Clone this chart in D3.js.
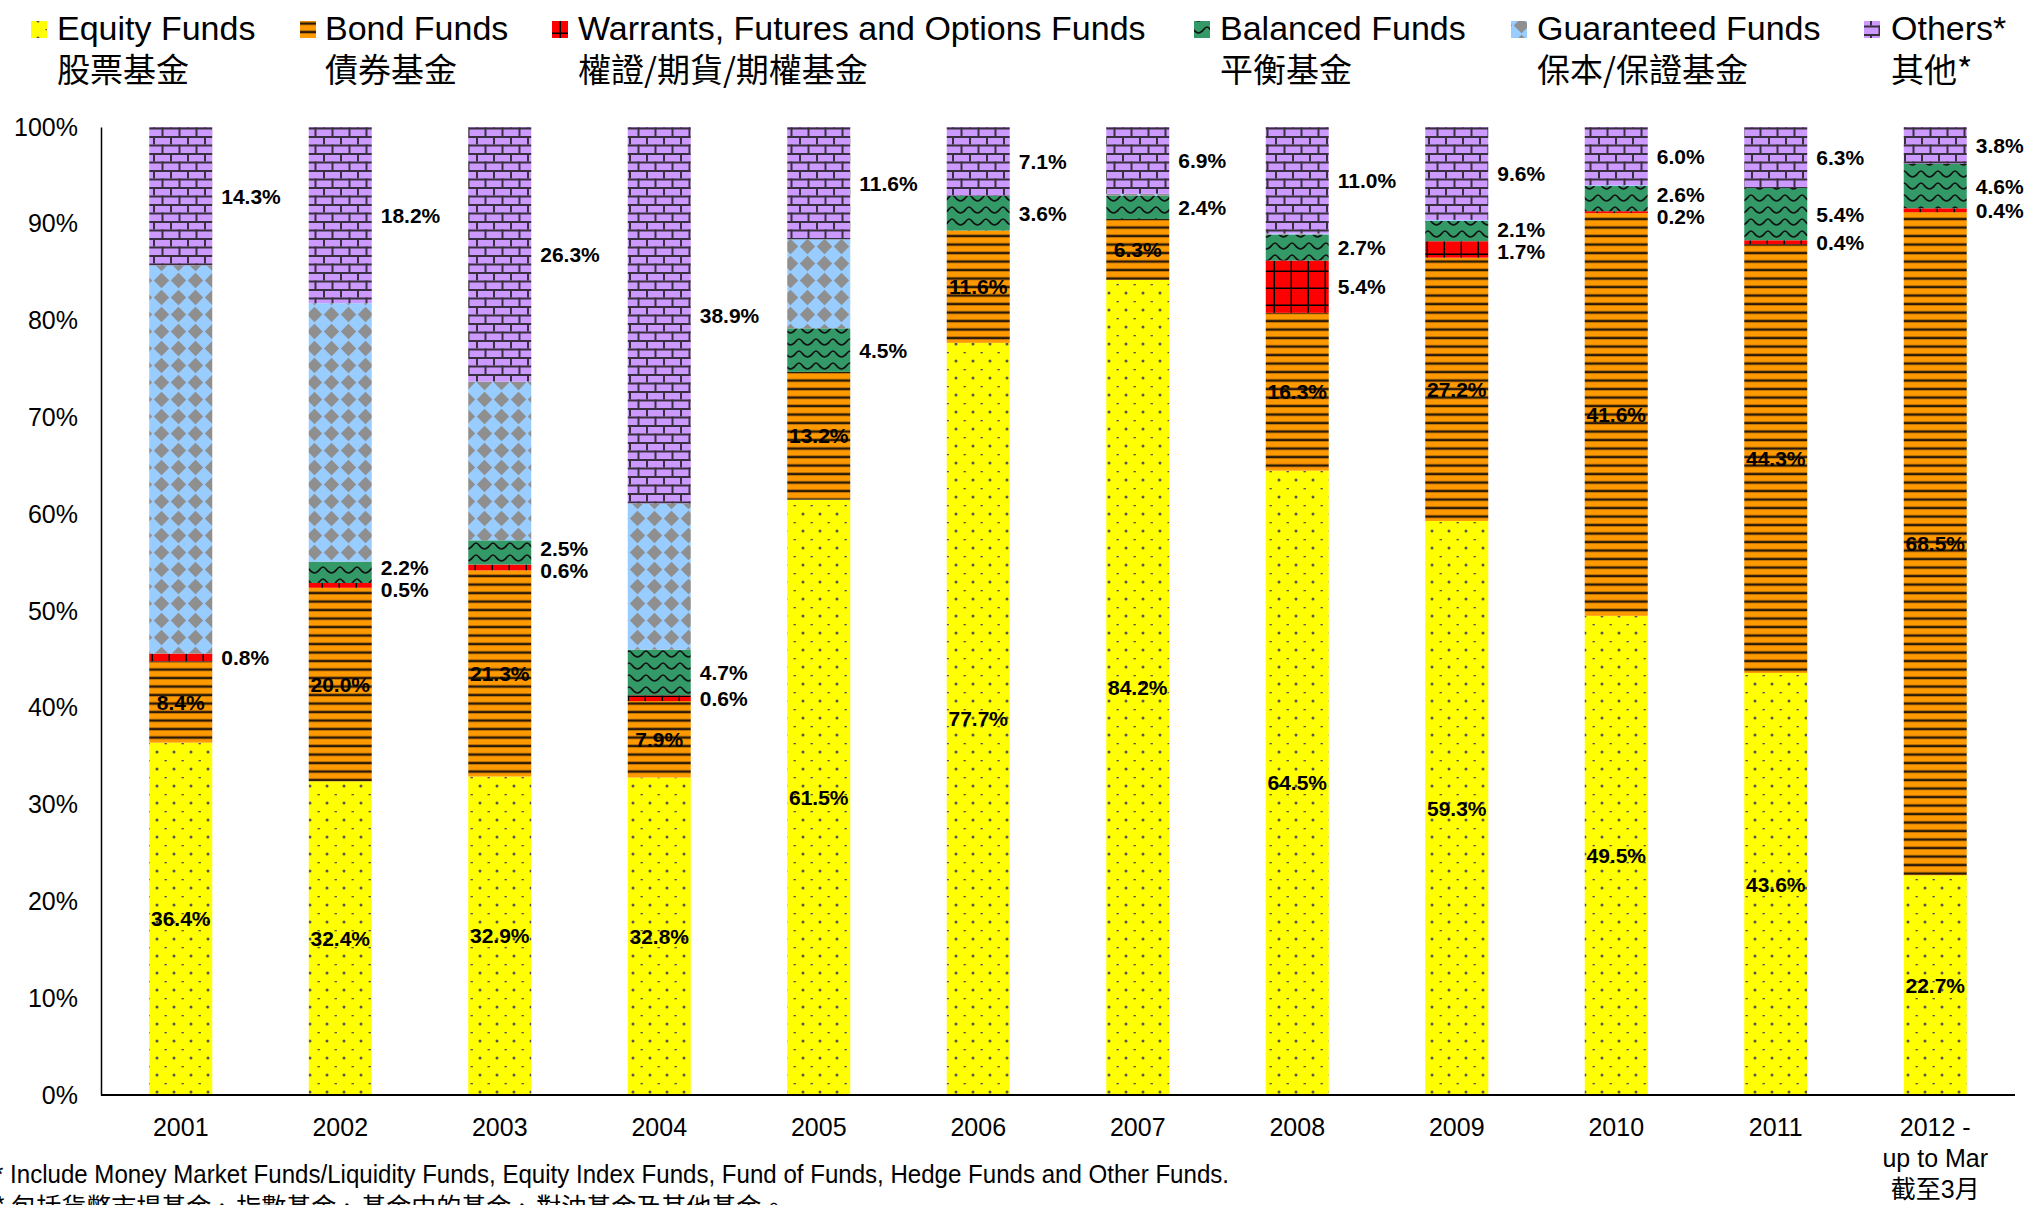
<!DOCTYPE html>
<html>
<head>
<meta charset="utf-8">
<script src="https://cdn.jsdelivr.net/npm/d3@7"></script>
<style>
  body { margin: 0; background: #fff; }
  svg { display: block; }
</style>
</head>
<body>
<div id="chart"></div>
<script>
// dati (percentuali)
var years = ["2001","2002","2003","2004","2005","2006","2007","2008","2009","2010","2011","2012"];
var yearLines = [["2001"],["2002"],["2003"],["2004"],["2005"],["2006"],["2007"],["2008"],["2009"],["2010"],["2011"],["2012 -","up to Mar","截至3月"]];
var equity     = [36.4, 32.4, 32.9, 32.8, 61.5, 77.7, 84.2, 64.5, 59.3, 49.5, 43.6, 22.7];
var bond       = [8.4, 20.0, 21.3, 7.9, 13.2, 11.6, 6.3, 16.3, 27.2, 41.6, 44.3, 68.5];
var warrants   = [0.8, 0.5, 0.6, 0.6, 0, 0, 0, 5.4, 1.7, 0.2, 0.4, 0.4];
var balanced   = [0, 2.2, 2.5, 4.7, 4.5, 3.6, 2.4, 2.7, 2.1, 2.6, 5.4, 4.6];
var guaranteed = [40.1, 26.7, 16.4, 15.1, 9.2, 0, 0.2, 0.1, 0.1, 0.1, 0, 0];
var others     = [14.3, 18.2, 26.3, 38.9, 11.6, 7.1, 6.9, 11.0, 9.6, 6.0, 6.3, 3.8];

var keys = ["equity","bond","warrants","balanced","guaranteed","others"];
var namesEn = ["Equity Funds","Bond Funds","Warrants, Futures and Options Funds","Balanced Funds","Guaranteed Funds","Others*"];
var namesZh = ["股票基金","債券基金","權證/期貨/期權基金","平衡基金","保本/保證基金","其他*"];
var yTicks = [0,10,20,30,40,50,60,70,80,90,100];

var width = 2028, height = 1205;
var plotLeft = 101, plotRight = 2015, plotTop = 127, plotBottom = 1095;

var rows = years.map(function(y, i) {
	return {year: y, equity: equity[i], bond: bond[i], warrants: warrants[i],
		balanced: balanced[i], guaranteed: guaranteed[i], others: others[i]};
});

var svg = d3.select("#chart").append("svg")
	.attr("width", width)
	.attr("height", height);

// pattern di riempimento
var defs = svg.append("defs");

function pat(id, w, h, bg) {
	var p = defs.append("pattern").attr("id", id)
		.attr("patternUnits", "userSpaceOnUse")
		.attr("width", w).attr("height", h);
	p.append("rect").attr("width", w).attr("height", h).attr("fill", bg);
	return p;
}

var p = pat("p-equity", 17, 17, "#FFFF00");
p.append("circle").attr("cx", 4).attr("cy", 4).attr("r", 1.5).attr("fill", "#555");
p.append("rect").attr("x", 11.5).attr("y", 12).attr("width", 2.4).attr("height", 1.3).attr("fill", "#555");

p = pat("p-bond", 17, 8.5, "#FF9900");
p.append("rect").attr("x", 0).attr("y", 5.3).attr("width", 17).attr("height", 2.5).attr("fill", "#2b1a08");

p = pat("p-warrants", 17, 17, "#FF0000");
p.append("rect").attr("x", 15.5).attr("y", 0).attr("width", 2).attr("height", 17).attr("fill", "#000");
p.append("rect").attr("x", 0).attr("y", 15.5).attr("width", 17).attr("height", 2).attr("fill", "#000");

p = pat("p-balanced", 17, 12, "#339966");
p.append("path")
	.attr("d", "M0,3 C3,3 4,9 8.5,9 C13,9 14,3 17,3")
	.attr("fill", "none").attr("stroke", "#111").attr("stroke-width", 1.7);

// scacchiera ruotata: rombo grigio al centro
p = pat("p-guaranteed", 17, 17, "#99CCFF");
p.append("path")
	.attr("d", "M8.5,0.8L16.2,8.5L8.5,16.2L0.8,8.5Z")
	.attr("fill", "#8f8f8f");

p = pat("p-others", 17, 17, "#CC99FF");
p.append("rect").attr("x", 0).attr("y", 0).attr("width", 17).attr("height", 2).attr("fill", "#3a2f3f");
p.append("rect").attr("x", 0).attr("y", 8.5).attr("width", 17).attr("height", 2).attr("fill", "#3a2f3f");
p.append("rect").attr("x", 0).attr("y", 0).attr("width", 2).attr("height", 8.5).attr("fill", "#3a2f3f");
p.append("rect").attr("x", 8.5).attr("y", 8.5).attr("width", 2).attr("height", 8.5).attr("fill", "#3a2f3f");

// scale
var x = d3.scaleBand()
	.domain(years)
	.range([plotLeft, plotRight])
	.paddingInner(0.605)
	.paddingOuter(0.3025);

var y = d3.scaleLinear()
	.domain([0, 100])
	.range([plotBottom, plotTop]);

var stack = d3.stack().keys(keys);
var series = stack(rows);

// barre
var layer = svg.append("g").selectAll("g")
	.data(series)
	.enter()
	.append("g")
	.attr("fill", function(d) { return "url(#p-" + d.key + ")"; });

layer.selectAll("rect")
	.data(function(d) { return d; })
	.enter()
	.append("rect")
	.attr("x", function(d) { return x(d.data.year); })
	.attr("y", function(d) { return y(d[1]); })
	.attr("width", x.bandwidth())
	.attr("height", function(d) { return Math.max(0, y(d[0]) - y(d[1])); });

// asse y
var yAxis = svg.append("g")
	.attr("transform", "translate(" + plotLeft + ",0)")
	.call(d3.axisLeft(y).tickValues(yTicks).tickSize(0).tickPadding(23)
		.tickFormat(function(d) { return d + "%"; }));
yAxis.select(".domain").attr("stroke", "#000").attr("stroke-width", 1.5);
yAxis.selectAll("text")
	.attr("font-family", "'Liberation Sans', Arial, sans-serif")
	.attr("font-size", 25)
	.attr("fill", "#000");

// asse x
svg.append("line")
	.attr("x1", plotLeft).attr("x2", plotRight)
	.attr("y1", y(0)).attr("y2", y(0))
	.attr("stroke", "#000").attr("stroke-width", 2);

var xl = svg.append("g").selectAll("text")
	.data(yearLines)
	.enter()
	.append("text")
	.attr("text-anchor", "middle")
	.attr("font-family", "'Liberation Sans', Arial, 'Noto Sans CJK TC', sans-serif")
	.attr("font-size", 25)
	.attr("fill", "#000");

xl.each(function(lines, i) {
	var t = d3.select(this);
	lines.forEach(function(s, j) {
		t.append("tspan")
			.attr("x", x(years[i]) + x.bandwidth() / 2)
			.attr("y", 1136 + j * 31)
			.text(s);
	});
});

var fmt = function(v) { return d3.format(".1f")(v) + "%"; };
var labelFont = "'Liberation Sans', Arial, sans-serif";

// etichette interne (azioni e obbligazioni)
series.filter(function(s) { return s.key == "equity" || s.key == "bond"; }).forEach(function(s) {
	svg.append("g").selectAll("text")
		.data(s)
		.enter()
		.append("text")
		.attr("x", function(d) { return x(d.data.year) + x.bandwidth() / 2; })
		.attr("y", function(d) { return y((d[0] + d[1]) / 2); })
		.attr("dy", "0.36em")
		.attr("text-anchor", "middle")
		.attr("font-family", labelFont)
		.attr("font-weight", "bold")
		.attr("font-size", 21)
		.attr("fill", "#000")
		.text(function(d) { return fmt(d[1] - d[0]); });
});

// etichette a destra (warrants, bilanciati, altri)
var sideKeys = ["warrants","balanced","others"];
var sideLabels = [];
years.forEach(function(yr, i) {
	var list = [];
	series.forEach(function(s) {
		if (sideKeys.indexOf(s.key) < 0) return;
		var d = s[i];
		var v = d[1] - d[0];
		if (v > 0.05) list.push({year: yr, v: v, cy: y((d[0] + d[1]) / 2)});
	});
	// evito sovrapposizioni
	list.sort(function(a, b) { return b.cy - a.cy; });
	for (var k = 0; k < 10; k++) {
		for (var j = 1; j < list.length; j++) {
			var gap = list[j - 1].cy - list[j].cy;
			if (gap < 22) {
				var m = (22 - gap) / 2;
				list[j - 1].cy += m;
				list[j].cy -= m;
			}
		}
	}
	sideLabels = sideLabels.concat(list);
});

svg.append("g").selectAll("text")
	.data(sideLabels)
	.enter()
	.append("text")
	.attr("x", function(d) { return x(d.year) + x.bandwidth() + 9; })
	.attr("y", function(d) { return d.cy; })
	.attr("dy", "0.36em")
	.attr("font-family", labelFont)
	.attr("font-weight", "bold")
	.attr("font-size", 21)
	.attr("fill", "#000")
	.text(function(d) { return fmt(d.v); });

// legenda
var legendMarkX = [31, 300, 552, 1194, 1511, 1864];
var legendTextX = [57, 325, 578, 1220, 1537, 1891];

var leg = svg.append("g").selectAll("g")
	.data(keys)
	.enter()
	.append("g");

leg.append("rect")
	.attr("x", function(d, i) { return legendMarkX[i]; })
	.attr("y", 21)
	.attr("width", 16)
	.attr("height", 17)
	.attr("fill", function(d) { return "url(#p-" + d + ")"; });

leg.append("text")
	.attr("x", function(d, i) { return legendTextX[i]; })
	.attr("y", 40)
	.attr("font-family", "'Liberation Sans', Arial, sans-serif")
	.attr("font-size", 34)
	.attr("fill", "#000")
	.text(function(d, i) { return namesEn[i]; });

leg.append("text")
	.attr("x", function(d, i) { return legendTextX[i]; })
	.attr("y", 82)
	.attr("font-family", "'Noto Sans CJK TC', sans-serif")
	.attr("font-size", 33)
	.attr("fill", "#000")
	.text(function(d, i) { return namesZh[i]; });

// nota
svg.append("text")
	.attr("x", -6)
	.attr("y", 1183)
	.attr("font-family", "'Liberation Sans Narrow', 'Liberation Sans', sans-serif")
	.attr("font-size", 25)
	.attr("textLength", 1235)
	.attr("lengthAdjust", "spacingAndGlyphs")
	.attr("fill", "#000")
	.text("* Include Money Market Funds/Liquidity Funds, Equity Index Funds, Fund of Funds, Hedge Funds and Other Funds.");

svg.append("text")
	.attr("x", -6)
	.attr("y", 1216)
	.attr("font-family", "'Noto Sans CJK TC', sans-serif")
	.attr("font-size", 25)
	.attr("fill", "#000")
	.text("* 包括貨幣市場基金、指數基金、基金中的基金、對沖基金及其他基金。");
</script>
</body>
</html>
